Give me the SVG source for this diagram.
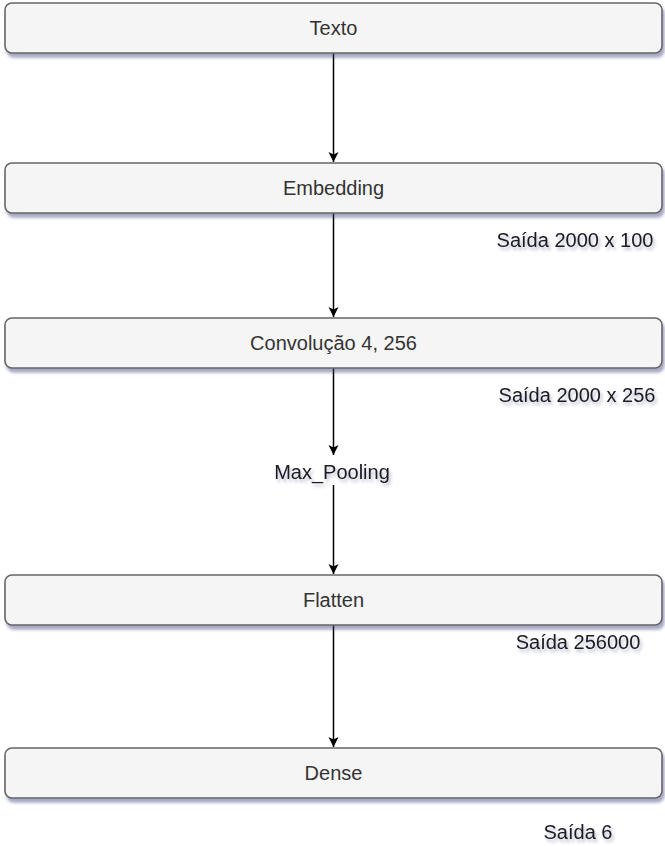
<svg xmlns="http://www.w3.org/2000/svg" width="665" height="846" viewBox="0 0 665 846">
<defs>
<filter id="shadow" x="-5%" y="-30%" width="115%" height="180%">
<feDropShadow dx="2" dy="4" stdDeviation="1.6" flood-color="#3c4080" flood-opacity="0.45"/>
</filter>
<filter id="tshadow" x="-10%" y="-40%" width="130%" height="200%">
<feDropShadow dx="2" dy="3" stdDeviation="1.6" flood-color="#3c4080" flood-opacity="0.35"/>
</filter>
<marker id="arrow" viewBox="0 0 12 12" refX="11" refY="6" markerWidth="12" markerHeight="12" markerUnits="userSpaceOnUse" orient="auto">
<path d="M1,1 L11,6 L1,11 L3.5,6 Z" fill="#000"/>
</marker>
</defs>
<style>
.box{fill:#f5f5f5;stroke:#666666;stroke-width:1.6;filter:url(#shadow)}
.lbl{font-family:"Liberation Sans",Arial,sans-serif;font-size:20px;fill:#333333;text-anchor:middle}
.out{font-family:"Liberation Sans",Arial,sans-serif;font-size:20px;fill:#1a1a1a;text-anchor:middle;filter:url(#tshadow)}
.edge{stroke:#000;stroke-width:1.5;fill:none;marker-end:url(#arrow)}
</style>
<g id="connectors">
<line class="edge" x1="333.5" y1="53" x2="333.5" y2="162"/>
<line class="edge" x1="333.5" y1="213" x2="333.5" y2="317"/>
<line class="edge" x1="333.5" y1="368" x2="333.5" y2="455"/>
<line class="edge" x1="333.5" y1="485" x2="333.5" y2="574"/>
<line class="edge" x1="333.5" y1="625" x2="333.5" y2="747"/>
</g>
<g id="texto">
<rect class="box" x="5" y="3" width="657" height="50" rx="7"/>
<text class="lbl" x="333.5" y="35">Texto</text>
</g>
<g id="embedding">
<rect class="box" x="5" y="163" width="657" height="50" rx="7"/>
<text class="lbl" x="333.5" y="195">Embedding</text>
</g>
<g id="saida1">
<text class="out" x="575" y="247">Saída 2000 x 100</text>
</g>
<g id="convolucao">
<rect class="box" x="5" y="318" width="657" height="50" rx="7"/>
<text class="lbl" x="333.5" y="350">Convolução 4, 256</text>
</g>
<g id="saida2">
<text class="out" x="577" y="402">Saída 2000 x 256</text>
</g>
<g id="maxpooling">
<text class="out" x="332" y="479">Max_Pooling</text>
</g>
<g id="flatten">
<rect class="box" x="5" y="575" width="657" height="50" rx="7"/>
<text class="lbl" x="333.5" y="607">Flatten</text>
</g>
<g id="saida3">
<text class="out" x="578" y="649">Saída 256000</text>
</g>
<g id="dense">
<rect class="box" x="5" y="748" width="657" height="50" rx="7"/>
<text class="lbl" x="333.5" y="780">Dense</text>
</g>
<g id="saida4">
<text class="out" x="578" y="839">Saída 6</text>
</g>
</svg>
